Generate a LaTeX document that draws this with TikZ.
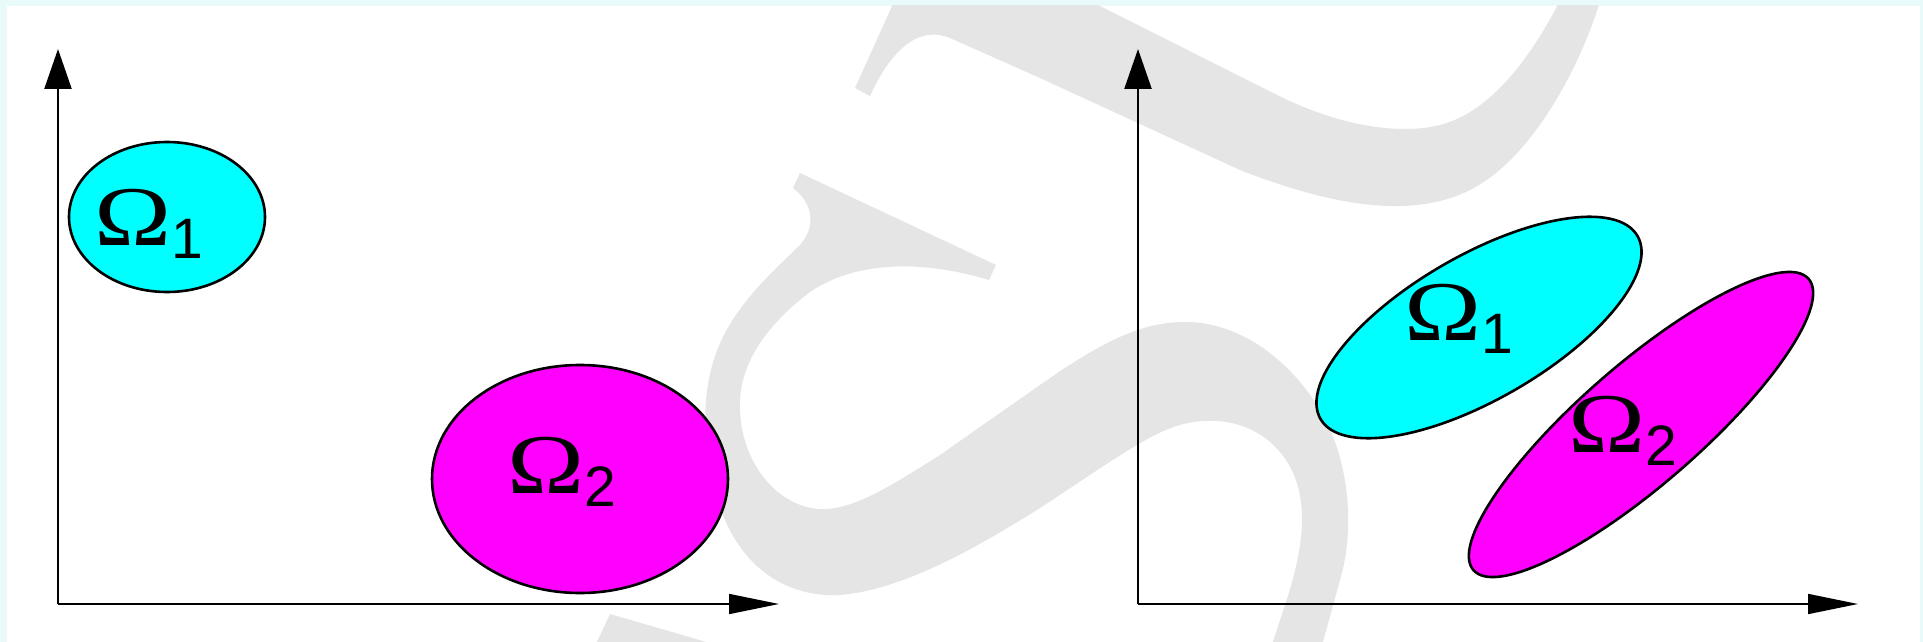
\documentclass[tikz,border=0pt]{standalone}
\usepackage{graphicx}
\usepackage{fontspec}
\newfontfamily\lblserif{Liberation Serif}
\newfontfamily\lblsans{Liberation Sans}
\usetikzlibrary{arrows.meta,shapes.geometric}
\definecolor{bordercyan}{RGB}{232,250,250}
\definecolor{wmgray}{RGB}{229,229,229}
\definecolor{regcyan}{RGB}{0,255,255}
\definecolor{regmagenta}{RGB}{255,0,255}
\newcommand\omlabel[1]{\scalebox{1.22}[1]{\lblserif\fontsize{85}{85}\selectfont Ω}\raisebox{-13pt}{\lblsans\fontsize{57}{57}\selectfont #1}}
\begin{document}
\begin{tikzpicture}[x=1pt,y=-1pt,
  region/.style={ellipse, draw=black, line width=2.6pt, inner sep=0pt, outer sep=0pt},
  lab/.style={anchor=base west, inner sep=0pt, outer sep=0pt},
  yaxis/.style={line width=2.4pt, -{Triangle[length=40pt,width=27pt]}},
  xaxis/.style={line width=1.6pt, -{Triangle[length=50pt,width=20pt]}},
  wm/.style={fill=wmgray}]
\useasboundingbox (0,0) rectangle (1923,642);
\fill[bordercyan] (0,0) rectangle (1923,642);
\fill[white] (7,6) rectangle (1920,642);
% watermark
\begin{scope}
\clip (7,6) rectangle (1920,642);
\fill[wm] (855,88) -- (897,-5) -- (1078,-5) -- (1100,6) -- (1273,93)
  .. controls (1340,127) and (1400,135) .. (1440,125)
  .. controls (1490,112) and (1530,60) .. (1563,-5)
  -- (1602,-5)
  .. controls (1580,70) and (1530,160) .. (1470,190)
  .. controls (1410,220) and (1330,205) .. (1240,170)
  -- (1040,78) -- (950,38)
  .. controls (922,26) and (893,45) .. (870,96) -- cycle;
\fill[wm] (800,173) -- (996,265) -- (989,280)
  .. controls (930,262) and (860,258) .. (810,292)
  .. controls (760,330) and (738,370) .. (740,410)
  .. controls (742,470) and (785,512) .. (827,509)
  .. controls (860,507) and (900,480) .. (940,455)
  -- (1040,385)
  .. controls (1100,343) and (1140,322) .. (1185,322)
  .. controls (1240,322) and (1290,360) .. (1320,410)
  .. controls (1350,460) and (1355,530) .. (1340,580)
  -- (1318,660) -- (1267,660) -- (1285,605)
  .. controls (1305,545) and (1312,490) .. (1280,452)
  .. controls (1255,422) and (1215,415) .. (1180,425)
  .. controls (1150,433) and (1110,462) .. (1040,508)
  .. controls (970,552) and (900,590) .. (840,595)
  .. controls (780,598) and (735,560) .. (718,500)
  .. controls (700,440) and (700,380) .. (725,333)
  .. controls (745,295) and (780,265) .. (800,245)
  .. controls (815,228) and (815,205) .. (793,188) -- cycle;
\fill[wm] (591,655) -- (610,614) -- (751,655) -- cycle;
\end{scope}
% left panel
\node[region, fill=regcyan, minimum width=196pt, minimum height=150pt] (l1) at (167,217) {};
\node[region, fill=regmagenta, minimum width=296pt, minimum height=228pt] (l2) at (580,479) {};
\node[lab] (tl1) at (94,245) {\omlabel{1}};
\node[lab] (tl2) at (507,493) {\omlabel{2}};
\coordinate (lo) at (58,604);
\coordinate (ly) at (58,49);
\coordinate (lx) at (779,604);
\draw[yaxis] (lo) -- (ly);
\draw[xaxis] (lo) -- (lx);
% right panel
\node[region, fill=regcyan, minimum width=366pt, minimum height=144pt, rotate=30] (r1) at (1479,327.5) {};
\node[region, fill=regmagenta, minimum width=444pt, minimum height=120pt, rotate=41] (r2) at (1641,424.5) {};
\node[lab] (tr1) at (1404,340) {\omlabel{1}};
\node[lab] (tr2) at (1568,452) {\omlabel{2}};
\coordinate (ro) at (1138,604);
\coordinate (ry) at (1138,49);
\coordinate (rx) at (1858,604);
\draw[yaxis] (ro) -- (ry);
\draw[xaxis] (ro) -- (rx);
\end{tikzpicture}
\end{document}
